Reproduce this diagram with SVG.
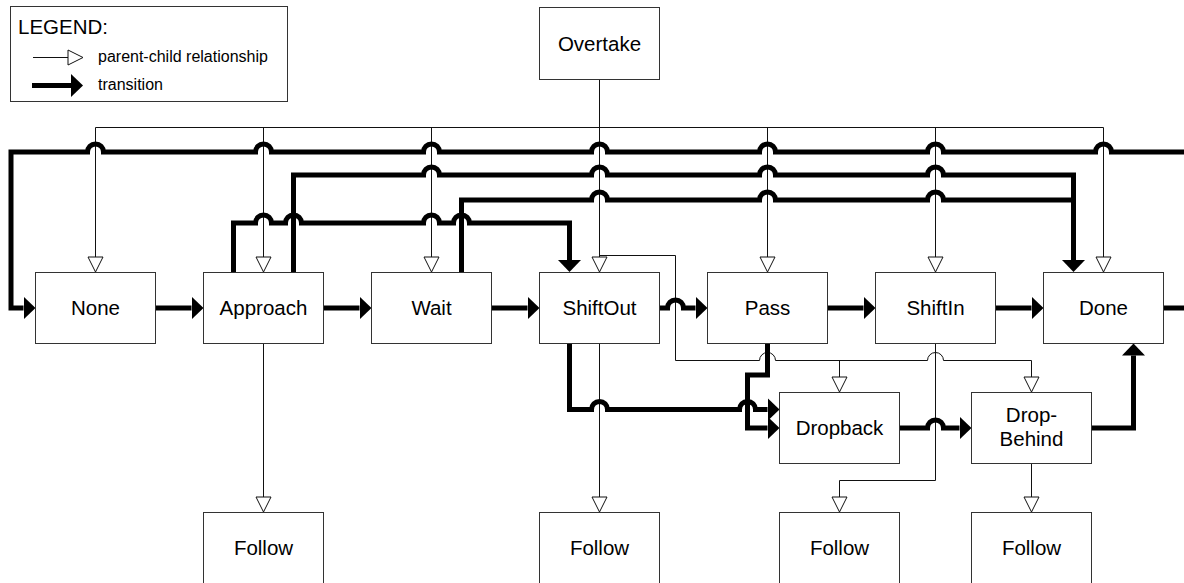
<svg xmlns="http://www.w3.org/2000/svg" width="1184" height="583" viewBox="0 0 1184 583">
<style>
.box{fill:#fff;stroke:#333;stroke-width:1}
.lbl{font-family:"Liberation Sans",Arial,sans-serif;font-size:20.5px;fill:#000;text-anchor:middle}
.leg{font-family:"Liberation Sans",Arial,sans-serif;fill:#000}
.thin{fill:none;stroke:#111;stroke-width:1}
.pc{fill:none;stroke:#111;stroke-width:1;marker-end:url(#open)}
.tr{fill:none;stroke:#000;stroke-width:5;stroke-linejoin:miter;marker-end:url(#head)}
.trn{fill:none;stroke:#000;stroke-width:5;stroke-linejoin:miter}
</style>
<defs>
<marker id="head" markerUnits="userSpaceOnUse" viewBox="0 -12 12 24" markerWidth="12" markerHeight="24" refX="0" refY="0" orient="auto"><path d="M0,-11.5 L12,0 L0,11.5 z" fill="#000"/></marker>
<marker id="open" markerUnits="userSpaceOnUse" viewBox="-1 -8.5 17 17" markerWidth="17" markerHeight="17" refX="0" refY="0" orient="auto"><path d="M0,-7.5 L15,0 L0,7.5 z" fill="#fff" stroke="#111" stroke-width="1"/></marker>
</defs>
<rect width="1184" height="583" fill="#fff"/>

<g id="legend">
<rect x="10.5" y="6.5" width="277" height="95" fill="#fff" stroke="#333"/>
<text class="leg" x="18" y="34" font-size="20.5">LEGEND:</text>
<path class="pc" d="M33,57.5 H68"/>
<text class="leg" x="98" y="62" font-size="16">parent-child relationship</text>
<path class="tr" d="M32,85.5 H71"/>
<text class="leg" x="98" y="90" font-size="16">transition</text>
</g>

<g id="connectors">
<!-- parent-child -->
<path class="thin" d="M599.5,79.5 V127.5" stroke-width="2"/>
<path class="thin" d="M95.5,127.5 H1103.5"/>
<path class="pc" d="M95.5,127.5 V257"/>
<path class="pc" d="M263.5,127.5 V257"/>
<path class="pc" d="M431.5,127.5 V257"/>
<path class="pc" d="M599.5,127.5 V257"/>
<path class="pc" d="M767.5,127.5 V257"/>
<path class="pc" d="M935.5,127.5 V257"/>
<path class="pc" d="M1103.5,127.5 V257"/>
<path class="pc" d="M599.5,255.5 H675.5 V360.5 H759.5 a8,8 0 0 1 16,0 H927.5 a8,8 0 0 1 16,0 H1031.5 V377"/>
<path class="pc" d="M839.5,360.5 V377"/>
<path class="pc" d="M263.5,343.5 V497"/>
<path class="pc" d="M599.5,343.5 V497"/>
<path class="pc" d="M935.5,343.5 V480.5 H839.5 V497"/>
<path class="pc" d="M1031.5,463.5 V497"/>

<!-- transitions -->
<path class="tr" d="M155.5,308 H191.5"/>
<path class="tr" d="M323.5,308 H359.5"/>
<path class="tr" d="M491.5,308 H527.5"/>
<path class="tr" d="M659.5,308 H667.5 a8,8 0 0 1 16,0 H695.5"/>
<path class="tr" d="M827.5,308 H863.5"/>
<path class="tr" d="M995.5,308 H1031.5"/>
<path class="trn" d="M1163.5,308 H1184"/>
<path class="tr" d="M1184,152 H1111.5 a8,8 0 0 0 -16,0 H943.5 a8,8 0 0 0 -16,0 H775.5 a8,8 0 0 0 -16,0 H607.5 a8,8 0 0 0 -16,0 H439.5 a8,8 0 0 0 -16,0 H271.5 a8,8 0 0 0 -16,0 H103.5 a8,8 0 0 0 -16,0 H11 V308 H23.5"/>
<path class="tr" d="M293.5,272.5 V175 H423.5 a8,8 0 0 1 16,0 H591.5 a8,8 0 0 1 16,0 H759.5 a8,8 0 0 1 16,0 H927.5 a8,8 0 0 1 16,0 H1073.5 V260"/>
<path class="trn" d="M461.5,272.5 V200 H591.5 a8,8 0 0 1 16,0 H759.5 a8,8 0 0 1 16,0 H927.5 a8,8 0 0 1 16,0 H1073.5"/>
<path class="tr" d="M233.5,272.5 V223 H255.5 a8,8 0 0 1 16,0 H285.5 a8,8 0 0 1 16,0 H423.5 a8,8 0 0 1 16,0 H453.5 a8,8 0 0 1 16,0 H569.5 V260"/>
<path class="tr" d="M569.5,343.5 V409.5 H591.5 a8,8 0 0 1 16,0 H739.5 a8,8 0 0 1 16,0 H767.5"/>
<path class="tr" d="M767.5,343.5 V375 H747.5 V428 H767.5"/>
<path class="tr" d="M899.5,428 H927.5 a8,8 0 0 1 16,0 H959.5"/>
<path class="tr" d="M1091.5,428 H1133.5 V355.5"/>
</g>

<g id="overtake"><rect class="box" x="539.5" y="7.5" width="120" height="72"/><text class="lbl" x="599.5" y="50.5">Overtake</text></g>
<g id="none"><rect class="box" x="35.5" y="272.5" width="120" height="71"/><text class="lbl" x="95.5" y="315">None</text></g>
<g id="approach"><rect class="box" x="203.5" y="272.5" width="120" height="71"/><text class="lbl" x="263.5" y="315">Approach</text></g>
<g id="wait"><rect class="box" x="371.5" y="272.5" width="120" height="71"/><text class="lbl" x="431.5" y="315">Wait</text></g>
<g id="shiftout"><rect class="box" x="539.5" y="272.5" width="120" height="71"/><text class="lbl" x="599.5" y="315">ShiftOut</text></g>
<g id="pass"><rect class="box" x="707.5" y="272.5" width="120" height="71"/><text class="lbl" x="767.5" y="315">Pass</text></g>
<g id="shiftin"><rect class="box" x="875.5" y="272.5" width="120" height="71"/><text class="lbl" x="935.5" y="315">ShiftIn</text></g>
<g id="done"><rect class="box" x="1043.5" y="272.5" width="120" height="71"/><text class="lbl" x="1103.5" y="315">Done</text></g>
<g id="dropback"><rect class="box" x="779.5" y="392.5" width="120" height="71"/><text class="lbl" x="839.5" y="435">Dropback</text></g>
<g id="dropbehind"><rect class="box" x="971.5" y="392.5" width="120" height="71"/><text class="lbl" x="1031.5" y="422">Drop-</text><text class="lbl" x="1031.5" y="446">Behind</text></g>
<g id="follow1"><rect class="box" x="203.5" y="512.5" width="120" height="75"/><text class="lbl" x="263.5" y="555">Follow</text></g>
<g id="follow2"><rect class="box" x="539.5" y="512.5" width="120" height="75"/><text class="lbl" x="599.5" y="555">Follow</text></g>
<g id="follow3"><rect class="box" x="779.5" y="512.5" width="120" height="75"/><text class="lbl" x="839.5" y="555">Follow</text></g>
<g id="follow4"><rect class="box" x="971.5" y="512.5" width="120" height="75"/><text class="lbl" x="1031.5" y="555">Follow</text></g>
</svg>
